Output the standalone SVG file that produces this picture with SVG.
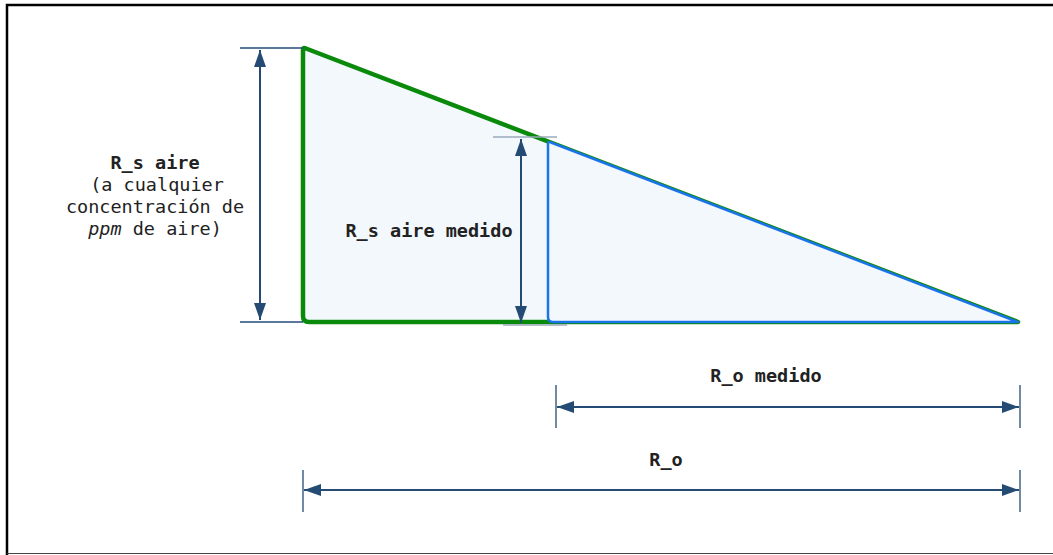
<svg xmlns="http://www.w3.org/2000/svg" width="1053" height="555" viewBox="0 0 1053 555">
<style>
.dim{stroke:#234b74;stroke-width:2;fill:none}
.ext{stroke:#234b74;stroke-width:1.3;fill:none}
.extl{stroke:#9aaabb;stroke-width:1.3;fill:none}
.lbl{font-family:"DejaVu Sans Mono","Liberation Mono",monospace;fill:#222;text-anchor:middle}
.b{font-weight:bold;font-size:18.5px}
.r{font-size:18.5px}
</style>
<defs>
<marker id="ahb" viewBox="0 0 10 10" refX="10" refY="5" markerWidth="17" markerHeight="12" markerUnits="userSpaceOnUse" orient="auto-start-reverse" preserveAspectRatio="none">
<path d="M0,0 L10,5 L0,10 z" fill="#234b74"/>
</marker>
</defs>
<rect x="0" y="0" width="1053" height="555" fill="#fff"/>
<path d="M7,555 V5 H1053" fill="none" stroke="#000" stroke-width="2.5"/>
<line x1="7" y1="553.5" x2="1053" y2="553.5" stroke="#444" stroke-width="1"/>
<g id="triangle-rs">
<path d="M303,50 Q303,47 306,48.5 L1018,322 L309,322 Q303,322 303,316 Z" fill="#f3f8fd" stroke="#0a8a0a" stroke-width="4.5" stroke-linejoin="round"/>
</g>
<g id="triangle-measured">
<path d="M548,144 Q548,141 551,142.5 L1018,322 L553,322 Q548,322 548,317 Z" fill="#f3f8fd" stroke="#1a73e8" stroke-width="2.5" stroke-linejoin="round"/>
</g>
<g id="connectors">
<line class="ext" x1="240" y1="48" x2="303" y2="48"/>
<line class="ext" x1="240" y1="322" x2="303" y2="322"/>
<line class="dim" x1="260" y1="50" x2="260" y2="320" marker-start="url(#ahb)" marker-end="url(#ahb)"/>
<line class="extl" x1="493" y1="137" x2="557" y2="137"/>
<line class="extl" x1="503" y1="325" x2="567" y2="325"/>
<line class="dim" x1="521" y1="139" x2="521" y2="323" marker-start="url(#ahb)" marker-end="url(#ahb)"/>
<line class="ext" x1="556" y1="385" x2="556" y2="428"/>
<line class="ext" x1="1020" y1="385" x2="1020" y2="428"/>
<line class="dim" x1="557" y1="407" x2="1019" y2="407" marker-start="url(#ahb)" marker-end="url(#ahb)"/>
<line class="ext" x1="303" y1="470" x2="303" y2="512"/>
<line class="ext" x1="1020" y1="470" x2="1020" y2="512"/>
<line class="dim" x1="304" y1="490" x2="1019" y2="490" marker-start="url(#ahb)" marker-end="url(#ahb)"/>
</g>
<g id="label-rs-aire">
<text class="lbl b" x="155" y="169">R_s aire</text>
<text class="lbl r" x="157" y="191">(a cualquier</text>
<text class="lbl r" x="155" y="213">concentración de</text>
<text class="lbl r" x="155" y="235"><tspan font-style="italic">ppm</tspan> de aire)</text>
</g>
<g id="label-rs-medido">
<text class="lbl b" x="429" y="237">R_s aire medido</text>
</g>
<g id="label-ro-medido">
<text class="lbl b" x="766" y="382">R_o medido</text>
</g>
<g id="label-ro">
<text class="lbl b" x="666" y="466">R_o</text>
</g>
</svg>
